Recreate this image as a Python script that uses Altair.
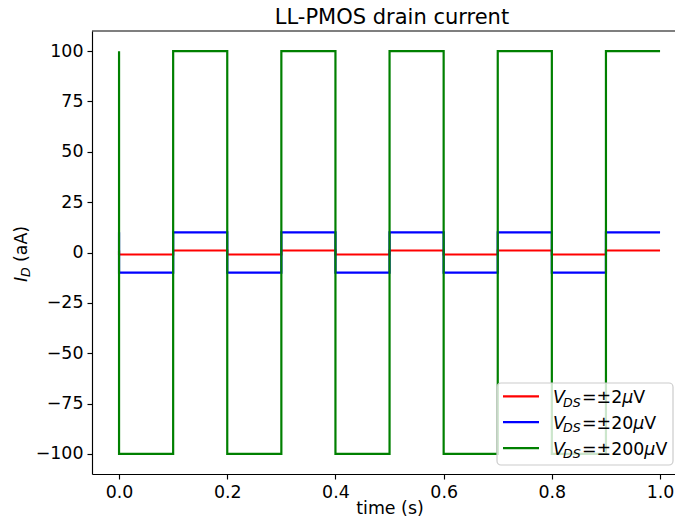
import altair as alt
import pandas as pd

# ---- data ----
switch_times = [0.0, 0.1, 0.2, 0.3, 0.4, 0.5, 0.6, 0.7, 0.8, 0.9, 1.0]
red_levels = [-1, 1, -1, 1, -1, 1, -1, 1, -1, 1]
blue_levels = [-10, 10, -10, 10, -10, 10, -10, 10, -10, 10]
green_levels = [-100, 100, -100, 100, -100, 100, -100, 100, -100, 100]
start_values = [1, 10, 100]
series_amps = ["2", "20", "200"]
series_colors = ["#ff0000", "#0000ff", "#008000"]
x_ticks = [0.0, 0.2, 0.4, 0.6, 0.8, 1.0]
y_ticks = [-100, -75, -50, -25, 0, 25, 50, 75, 100]

FONT = "DejaVu Sans"
FS = 17.4
SUB = 12.6
W, H = 583, 443
PX_PER_UNIT = 541.0
XMIN = -0.05
XMAX = XMIN + W / PX_PER_UNIT


def build(name, start, levels):
    rows = [{"series": name, "t": 0.0, "i": start, "o": 0}]
    o = 1
    for k, lv in enumerate(levels):
        rows.append({"series": name, "t": switch_times[k], "i": lv, "o": o})
        o += 1
        rows.append({"series": name, "t": switch_times[k + 1], "i": lv, "o": o})
        o += 1
    return pd.DataFrame(rows)


frames = [
    build(series_amps[0], start_values[0], red_levels),
    build(series_amps[1], start_values[1], blue_levels),
    build(series_amps[2], start_values[2], green_levels),
]

xscale = alt.Scale(domain=[XMIN, XMAX], nice=False, zero=False)
yscale = alt.Scale(domain=[-110, 110], nice=False, zero=False)
xaxis = alt.Axis(values=x_ticks, format=".1f", title=None, grid=False)
yaxis = alt.Axis(values=y_ticks, format="d", title=None, grid=False)

layers = []
for df, col in zip(frames, series_colors):
    layers.append(
        alt.Chart(df).mark_line(color=col, strokeWidth=2.2, clip=True).encode(
            x=alt.X("t:Q", scale=xscale, axis=xaxis),
            y=alt.Y("i:Q", scale=yscale, axis=yaxis),
            order="o:Q",
        )
    )

one = pd.DataFrame({"a": [0]})


def txt(text, x, y, size=FS, italic=False, angle=None, align="left"):
    kw = dict(text=text, font=FONT, fontSize=size, align=align,
              baseline="alphabetic", color="black")
    if italic:
        kw["fontStyle"] = "italic"
    if angle is not None:
        kw["angle"] = angle
    return alt.Chart(one).mark_text(**kw).encode(x=alt.value(x), y=alt.value(y))


# top frame line
layers.append(
    alt.Chart(one).mark_rule(color="black", strokeWidth=1.15).encode(
        x=alt.value(0), x2=alt.value(W), y=alt.value(0)
    )
)

# legend (box shifted slightly left so its right edge stays inside the page)
LX = -5
layers.append(
    alt.Chart(one).mark_rect(
        fill="white", fillOpacity=0.8, stroke="#cccccc", strokeWidth=1.2, cornerRadius=4
    ).encode(x=alt.value(410 + LX), x2=alt.value(586 + LX), y=alt.value(352), y2=alt.value(434))
)

for k, (amp, col) in enumerate(zip(series_amps, series_colors)):
    base_y = 372.3 + 25.9 * k
    layers.append(
        alt.Chart(one).mark_rule(color=col, strokeWidth=2.2).encode(
            x=alt.value(416 + LX), x2=alt.value(452 + LX), y=alt.value(base_y - 7)
        )
    )
    layers.append(txt("V", 466 + LX, base_y, italic=True))
    layers.append(txt("DS", 476 + LX, base_y + 3.2, size=SUB, italic=True))
    head = "=±" + amp
    x0 = 495 + LX
    layers.append(txt(head, x0, base_y))
    w_head = (0.838 + 0.838 + 0.636 * len(amp)) * FS
    layers.append(txt("μ", x0 + w_head, base_y, italic=True))
    layers.append(txt("V", x0 + w_head + 0.636 * FS, base_y))

# chart title
layers.append(txt("LL-PMOS drain current", 300, -7, size=21, align="center"))

# x axis title
layers.append(txt("time (s)", 298, 482.5, align="center"))

# y axis title: I_D (aA), rotated
layers.append(txt("I", -65, 251, italic=True, angle=270))
layers.append(txt("D", -62, 246, size=SUB, italic=True, angle=270))
layers.append(txt("(aA)", -65, 231, angle=270))

chart = (
    alt.layer(*layers)
    .properties(
        width=W,
        height=H,
        autosize=alt.AutoSizeParams(type="none"),
        padding={"left": 84, "top": 23, "right": 0, "bottom": 42},
        background="white",
    )
    .configure_view(stroke=None)
    .configure_axis(
        labelFont=FONT,
        labelFontSize=FS,
        labelColor="black",
        domainColor="black",
        domainWidth=1.15,
        tickColor="black",
        tickWidth=1.15,
        tickSize=5,
        labelPadding=4,
    )
)

chart.save("out.html", embed_options={"renderer": "svg", "actions": False})
